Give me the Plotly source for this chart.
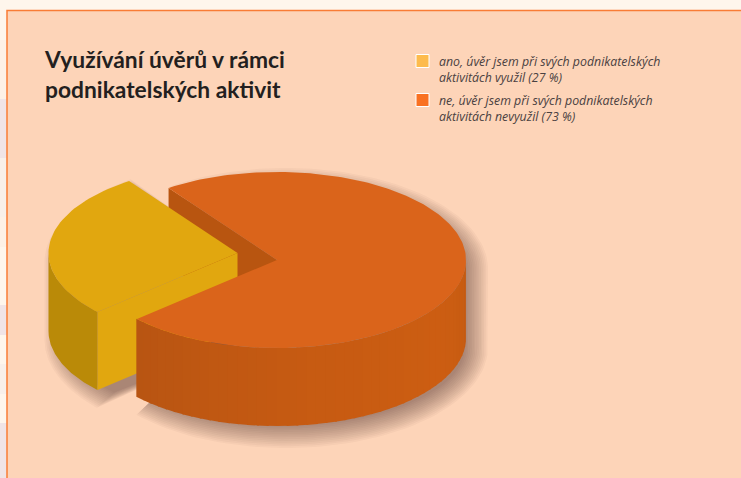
import numpy as np
import plotly.graph_objects as go

categories = [
    "ano, úvěr jsem při svých podnikatelských<br>aktivitách využil (27 %)",
    "ne, úvěr jsem při svých podnikatelských<br>aktivitách nevyužil (73 %)",
]
values = [27, 73]
legend_colors = ["#FDBB4D", "#F97122"]
title_text = "<b>Využívání úvěrů v rámci<br>podnikatelských aktivit</b>"

W, H = 741, 478
CX, CY, RX, RY, DEPTH = 277.0, 260.0, 189.0, 88.0, 78.0
EXPLODE = (-39.5, -7.0)
START_DEG = 125.0  # where the first slice begins, sweeping counter-clockwise

BG_PAGE, BG_PANEL, BORDER = "#FEF6EC", "#FDD4B8", "#F97C35"
Y_TOP, Y_WALL = "#E1A70F", "#BA8A08"
O_TOP, O_CUT = "#DA641B", "#B85510"

fig = go.Figure()


def arc(cx, cy, a0, a1, rx=RX, ry=RY, n=60):
    t = np.radians(np.linspace(a0, a1, n))
    return cx + rx * np.cos(t), cy - ry * np.sin(t)


def poly(x, y, color):
    fig.add_trace(go.Scatter(
        x=list(x) + [x[0]], y=list(y) + [y[0]], mode="lines", fill="toself",
        fillcolor=color, line=dict(width=0), hoverinfo="skip", showlegend=False))


def wall_color(a):
    stops_a = [180, 222, 250, 280, 330, 352, 360]
    stops_c = [(0xB8, 0x55, 0x12), (0xB8, 0x55, 0x12), (0xC0, 0x58, 0x12),
               (0xC7, 0x5B, 0x12), (0xCD, 0x5E, 0x13), (0xC8, 0x5C, 0x11), (0xC2, 0x59, 0x10)]
    c = [int(np.interp(a, stops_a, [s[i] for s in stops_c])) for i in range(3)]
    return "rgb(%d,%d,%d)" % tuple(c)


sweep = [v / sum(values) * 360 for v in values]
a_y0, a_y1 = START_DEG, START_DEG + sweep[0]
a_o0, a_o1 = a_y1, a_y1 + sweep[1]

yx, yy = CX + EXPLODE[0], CY + EXPLODE[1]

# soft drop shadows
SHADOW_LAYERS = 14
SHADOW = "rgba(60,40,30,0.034)"
for k in range(SHADOW_LAYERS):
    g = 13 - 23 * k / (SHADOW_LAYERS - 1)
    dx, dy = 9, 9
    ax, ay = arc(CX + dx, CY + dy, a_o1 - 360, 0, RX + g, RY + g)
    bx, by = arc(CX + dx, CY + dy + DEPTH, 0, a_o0 - 360, RX + g, RY + g)
    poly(np.r_[CX + dx, ax, bx], np.r_[CY + dy, ay, by], SHADOW)
    ax, ay = arc(yx + dx, yy + dy, a_y0, 180, RX + g, RY + g)
    bx, by = arc(yx + dx, yy + dy + DEPTH, 180, a_y1, RX + g, RY + g)
    poly(np.r_[yx + dx, ax, bx, yx + dx], np.r_[yy + dy, ay, by, yy + dy + DEPTH], SHADOW)

# cut face of the orange slice seen behind the yellow one
ox, oy = arc(CX, CY, a_o1 - 360, a_o1 - 360, n=1)
poly([CX, ox[0], ox[0], CX], [CY, oy[0], oy[0] + DEPTH, CY + DEPTH], O_CUT)

# yellow slice: outer wall, cut face, top
ax, ay = arc(yx, yy, 180, a_y1)
poly(np.r_[ax, ax[::-1]], np.r_[ay, ay[::-1] + DEPTH], Y_WALL)
ex, ey = ax[-1], ay[-1]
poly([yx, ex, ex, yx], [yy, ey, ey + DEPTH, yy + DEPTH], Y_TOP)
tx, ty = arc(yx, yy, a_y0, a_y1)
poly(np.r_[yx, tx], np.r_[yy, ty], Y_TOP)

# orange slice: outer wall in narrow strips, then top
edges = np.arange(a_o0, 360.01, 3.0)
edges = np.r_[edges[edges < 360], 360.0]
for a0, a1 in zip(edges[:-1], edges[1:]):
    ax, ay = arc(CX, CY, a0 - 0.3, a1 + 0.3, n=5)
    poly(np.r_[ax, ax[::-1]], np.r_[ay, ay[::-1] + DEPTH], wall_color((a0 + a1) / 2))
tx, ty = arc(CX, CY, a_o0, a_o1, n=240)
poly(np.r_[CX, tx], np.r_[CY, ty], O_TOP)

shapes = []
for y0, y1, c in [(40, 99, "#FDF1E6"), (99, 158, "#F0E4E6"), (158, 217, "#F8F0EA"),
                  (217, 247, "#FDF1E6"), (305, 335, "#F0E4E6"), (364, 394, "#F8F0EA"),
                  (423, 478, "#F0E4E6")]:
    shapes.append(dict(type="rect", xref="paper", yref="y", x0=0, x1=1, y0=y0, y1=y1,
                       fillcolor=c, line_width=0, layer="below"))
shapes.append(dict(type="rect", xref="x", yref="y", x0=7, x1=W + 5, y0=10.5, y1=H + 5,
                   fillcolor=BG_PANEL, line=dict(color=BORDER, width=1.5), layer="below"))

annotations = []
for i, (name, col) in enumerate(zip(categories, legend_colors)):
    top = 54.5 + i * 39
    shapes.append(dict(type="rect", xref="x", yref="y", x0=416, x1=429, y0=top, y1=top + 13,
                       fillcolor=col, line=dict(color="#FFFFFF", width=1), layer="above"))
    annotations.append(dict(text=name, xref="x", yref="y", x=437.5, y=top - 2.5,
                            xanchor="left", yanchor="top", align="left", showarrow=False,
                            borderpad=0,
                            font=dict(family="Open Sans", size=12.35, color="#4A4141",
                                      style="italic")))

fig.update_layout(
    width=W, height=H, margin=dict(l=0, r=0, t=0, b=0),
    paper_bgcolor=BG_PAGE, plot_bgcolor="rgba(0,0,0,0)",
    shapes=shapes, annotations=annotations,
    xaxis=dict(range=[0, W], visible=False, fixedrange=True),
    yaxis=dict(range=[H, 0], visible=False, fixedrange=True),
    title=dict(text=title_text, x=45 / W, xanchor="left", y=1 - 68 / H, yanchor="top",
               font=dict(family="Lato", size=22.8, color="#231F20")),
    showlegend=False,
)

fig.write_html("out.html", config={"displayModeBar": False},
               post_script="document.body.style.margin='0';document.body.style.overflow='hidden';")
